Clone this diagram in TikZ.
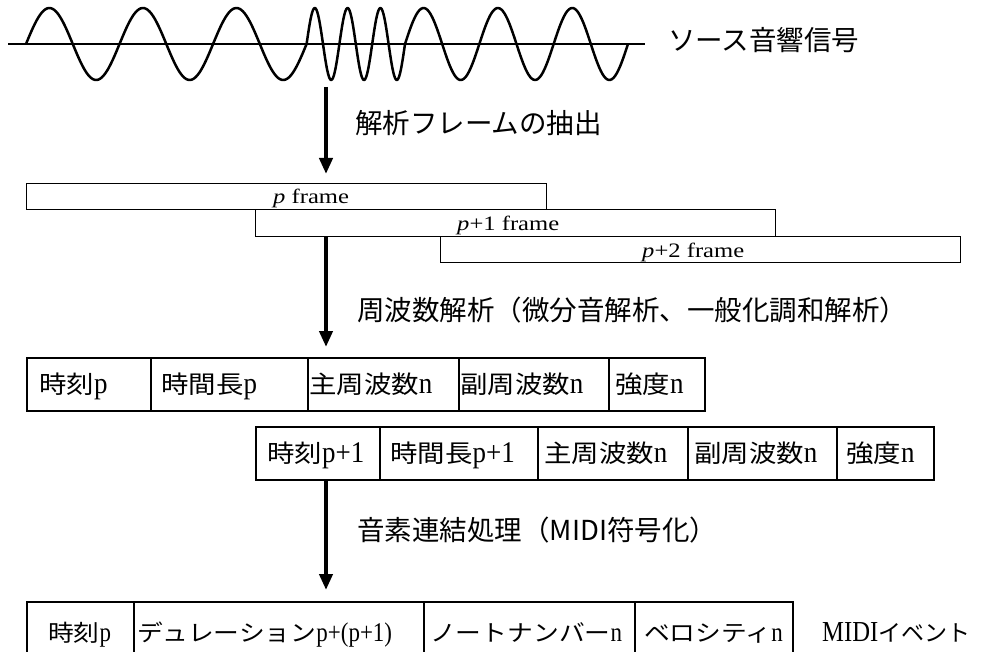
\documentclass[tikz,border=0pt]{standalone}
\usepackage{fontspec}
\setmainfont{Liberation Serif}
\newfontfamily\jpsans{Noto Sans CJK JP}
\newfontfamily\jptab[FakeStretch=1.12]{Noto Sans CJK JP}
\newfontfamily\serframe[FakeStretch=1.2]{Liberation Serif}
\newfontfamily\sertabA[FakeStretch=0.9]{Liberation Serif}
\newfontfamily\sertabB[FakeStretch=0.85]{Liberation Serif}
\usetikzlibrary{arrows.meta}
\newcommand{\tJ}[1]{{\jptab #1}}
\newcommand{\tR}[1]{{\sertabA\fontsize{30bp}{34bp}\selectfont #1}}
\newcommand{\tRb}[1]{{\sertabB\fontsize{27bp}{31bp}\selectfont #1}}
\tikzset{
  head/.style={anchor=west, inner sep=0pt, font=\jpsans\fontsize{27.5bp}{32bp}\selectfont},
  framebox/.style={draw, line width=1.3bp, anchor=north west, inner sep=0pt, minimum width=520bp},
  flabel/.style={anchor=base west, inner sep=0pt, font=\serframe\fontsize{20.5bp}{24bp}\selectfont},
  cell/.style={draw, line width=1.6bp, anchor=north west, inner sep=0pt, minimum height=53bp},
  ctext/.style={anchor=base west, inner sep=0pt, font=\fontsize{24.5bp}{28bp}\selectfont},
  btext/.style={anchor=base west, inner sep=0pt, font=\fontsize{23bp}{27bp}\selectfont},
  arr/.style={line width=4bp, -{Triangle[width=13bp,length=16bp]}},
  wave/.style={line width=2.5bp, line join=round},
}
\begin{document}
\begin{tikzpicture}[x=1bp,y=-1bp]
\useasboundingbox (0,0) rectangle (988,652);
% source signal
\coordinate (axL) at (8,44);
\coordinate (axR) at (645,44);
\draw[line width=2bp] (axL) -- (axR);
\draw[wave] plot[domain=26:306.6, samples=160, smooth] (\x,{44-36*sin((\x-26)*3.849)});
\draw[wave] plot[domain=306.6:405, samples=120, smooth] (\x,{44-36*sin((\x-306.6)*10.9756)});
\draw[wave] plot[domain=405:628, samples=140, smooth] (\x,{44-36*sin((\x-405)*4.8433)});
\node[head] (src) at (668,40) {ソース音響信号};
% arrow 1
\coordinate (a1s) at (326,87);
\coordinate (a1e) at (326,174);
\draw[arr] (a1s) -- (a1e);
\node[head] (l1) at (355,123) {解析フレームの抽出};
% frames
\node[framebox, minimum height=26bp] (f0) at (26,183) {};
\node[framebox, minimum height=27bp] (f1) at (255,209) {};
\node[framebox, minimum height=26bp] (f2) at (440,236) {};
\node[flabel] (f0t) at (273,203) {\textit{p} frame};
\node[flabel] (f1t) at (457,230) {\textit{p}+1 frame};
\node[flabel] (f2t) at (642,257) {\textit{p}+2 frame};
% arrow 2
\coordinate (a2s) at (326,236);
\coordinate (a2e) at (326,347);
\draw[arr] (a2s) -- (a2e);
\node[head] (l2) at (357,310) {周波数解析（微分音解析、一般化調和解析）};
% row 1
\node[cell, minimum width=124bp] (r1a) at (26,357) {};
\node[cell, minimum width=157bp] (r1b) at (150,357) {};
\node[cell, minimum width=151bp] (r1c) at (307,357) {};
\node[cell, minimum width=150bp] (r1d) at (458,357) {};
\node[cell, minimum width=96bp] (r1e) at (608,357) {};
\node[ctext] (t1a) at (39,393) {\tJ{時刻}\tR{p}};
\node[ctext] (t1b) at (161,393) {\tJ{時間長}\tR{p}};
\node[ctext] (t1c) at (309,393) {\tJ{主周波数}\tR{n}};
\node[ctext] (t1d) at (460,393) {\tJ{副周波数}\tR{n}};
\node[ctext] (t1e) at (615,393) {\tJ{強度}\tR{n}};
% row 2
\node[cell, minimum width=124bp] (r2a) at (255,426) {};
\node[cell, minimum width=158bp] (r2b) at (379,426) {};
\node[cell, minimum width=150bp] (r2c) at (537,426) {};
\node[cell, minimum width=149bp] (r2d) at (687,426) {};
\node[cell, minimum width=97bp] (r2e) at (836,426) {};
\node[ctext] (t2a) at (267,462) {\tJ{時刻}\tR{p+1}};
\node[ctext] (t2b) at (390,462) {\tJ{時間長}\tR{p+1}};
\node[ctext] (t2c) at (544,462) {\tJ{主周波数}\tR{n}};
\node[ctext] (t2d) at (694,462) {\tJ{副周波数}\tR{n}};
\node[ctext] (t2e) at (846,462) {\tJ{強度}\tR{n}};
% arrow 3
\coordinate (a3s) at (326,479);
\coordinate (a3e) at (326,590);
\draw[arr] (a3s) -- (a3e);
\node[head] (l3) at (357,530) {音素連結処理（MIDI符号化）};
% row 3
\node[cell, minimum width=107bp, minimum height=60bp] (r3a) at (26,601) {};
\node[cell, minimum width=290bp, minimum height=60bp] (r3b) at (133,601) {};
\node[cell, minimum width=211bp, minimum height=60bp] (r3c) at (423,601) {};
\node[cell, minimum width=158bp, minimum height=60bp] (r3d) at (634,601) {};
\node[btext] (t3a) at (48,641) {\tJ{時刻}\tRb{p}};
\node[btext] (t3b) at (137,641) {\tJ{デュレーション}\tRb{p+(p+1)}};
\node[btext] (t3c) at (430,641) {\tJ{ノートナンバー}\tRb{n}};
\node[btext] (t3d) at (644,641) {\tJ{ベロシティ}\tRb{n}};
\node[btext] (t3e) at (822,641) {{\sertabB\fontsize{29bp}{33bp}\selectfont MIDI}{\jpsans イベント}};
\end{tikzpicture}
\end{document}
